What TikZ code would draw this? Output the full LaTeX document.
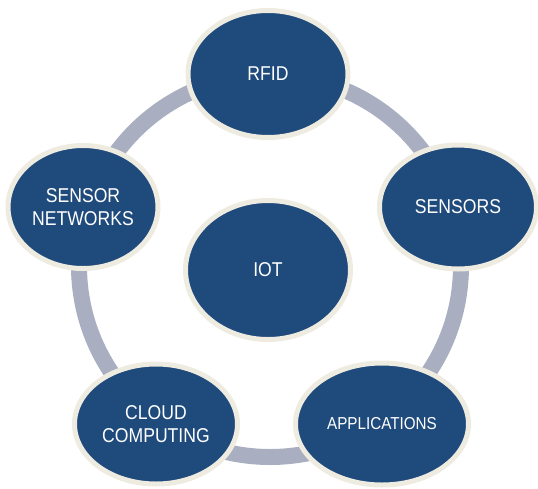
\documentclass[tikz,border=0pt]{standalone}
\usepackage{fontspec}
\setmainfont{Liberation Sans}[FakeStretch=0.88]
\usetikzlibrary{shapes.geometric}
\definecolor{ringgray}{HTML}{A9AFC0}
\definecolor{bubblefill}{HTML}{1F4A7C}
\definecolor{bubbleedge}{HTML}{EEEBE1}
\tikzset{
  ringline/.style={draw=ringgray, line width=16pt},
  bubble/.style={ellipse, fill=bubblefill, draw=bubbleedge, line width=5pt,
    inner sep=0pt, text=white, align=center,
    font=\fontsize{20}{22.5}\selectfont},
}
\begin{document}
\begin{tikzpicture}[x=1pt,y=-1pt]
  \useasboundingbox (0,0) rectangle (538,488);
  % the ring joining the outer topics
  \coordinate (ringc) at (270,266);
  \draw[ringline] (ringc) circle[radius=191pt];
  % outer topics
  \node[bubble, minimum width=160pt, minimum height=127pt] (rfid) at (268,74) {RFID};
  \node[bubble, minimum width=157pt, minimum height=124pt] (sensors) at (458,207) {SENSORS};
  \node[bubble, minimum width=173pt, minimum height=122pt, font=\fontsize{17.3}{20}\selectfont] (apps) at (382,424) {APPLICATIONS};
  \node[bubble, minimum width=163pt, minimum height=120pt] (cloud) at (156,424) {CLOUD\\COMPUTING};
  \node[bubble, minimum width=150pt, minimum height=123pt] (sensnet) at (83,207) {SENSOR\\NETWORKS};
  % centre topic
  \node[bubble, minimum width=165pt, minimum height=139pt] (iot) at (268,270) {IOT};
\end{tikzpicture}
\end{document}
